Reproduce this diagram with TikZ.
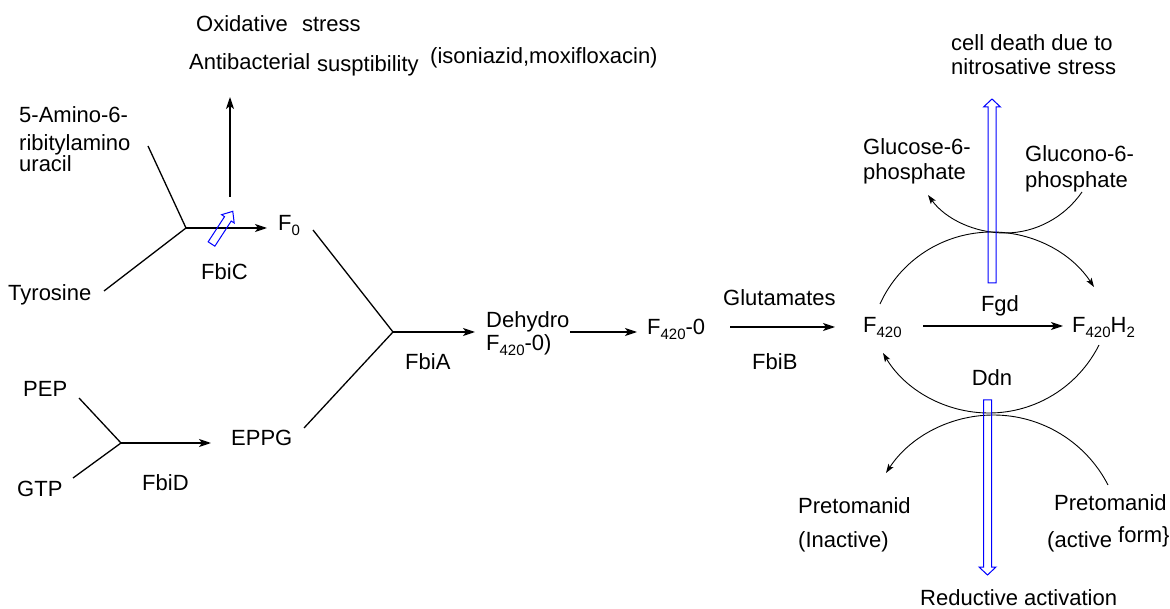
\documentclass[tikz,border=0pt]{standalone}
\usepackage{fontspec}
\setmainfont{Liberation Sans}
\usetikzlibrary{arrows.meta}
\newcommand\sbs[1]{\raisebox{-5pt}{\fontsize{15}{15}\selectfont #1}}
\begin{document}
\begin{tikzpicture}[x=1pt,y=-1pt,font=\fontsize{22}{26}\selectfont,
  lbl/.style={inner sep=0pt,anchor=base west},
  lblc/.style={inner sep=0pt,anchor=base},
  rxn/.style={line width=1.3pt},
  rxa/.style={rxn,-{Stealth[length=12pt,width=8pt,inset=3pt]}},
  arcl/.style={line width=0.9pt},
  arca/.style={arcl,-{Stealth[length=9pt,width=6pt,inset=2pt]}},
  blu/.style={draw=blue,line width=1pt,line join=miter}]
\useasboundingbox (0,0) rectangle (1170,609);

% ---- top-left texts
\node[lbl] (oxs) at (196,32) {Oxidative\hspace{8pt} stress};
\node[lbl] (anti) at (189,70) {Antibacterial};
\node[lbl] (susp) at (317,72) {susptibility};
\node[lbl] (iso) at (430,64) {(isoniazid,moxifloxacin)};

\node[lbl] (am1) at (19,123) {5-Amino-6-};
\node[lbl] (am2) at (19,151) {ribitylamino};
\node[lbl] (am3) at (19,172) {uracil};
\node[lbl] (tyr) at (8,301) {Tyrosine};
\node[lbl] (f0) at (278,231) {F\sbs{0}};
\node[lbl] (fbic) at (201,280) {FbiC};

\node[lbl] (pep) at (23,396) {PEP};
\node[lbl] (gtp) at (17,496) {GTP};
\node[lbl] (fbid) at (142,490) {FbiD};
\node[lbl] (eppg) at (231,446) {EPPG};
\node[lbl] (fbia) at (405,370) {FbiA};
\node[lbl] (dh1) at (486,328) {Dehydro};
\node[lbl] (dh2) at (486,351) {F\sbs{420}-0)};
\node[lbl] (f4200) at (647,335) {F\sbs{420}-0};
\node[lbl] (glut) at (723,306) {Glutamates};
\node[lbl] (fbib) at (752,370) {FbiB};

% ---- right texts
\node[lbl] (f420) at (863,333) {F\sbs{420}};
\node[lbl] (f420h2) at (1072,333) {F\sbs{420}H\sbs{2}};
\node[lblc] (fgd) at (1000,312) {Fgd};
\node[lblc] (ddn) at (992,386) {Ddn};
\node[lbl] (cd1) at (951,51) {cell death due to};
\node[lbl] (cd2) at (951,75) {nitrosative stress};
\node[lbl] (g6a) at (863,155) {Glucose-6-};
\node[lbl] (g6b) at (863,180) {phosphate};
\node[lbl] (gl6a) at (1025,162) {Glucono-6-};
\node[lbl] (gl6b) at (1025,188) {phosphate};
\node[lbl] (pia) at (798,513) {Pretomanid};
\node[lbl] (pib) at (798,547) {(Inactive)};
\node[lbl] (paa) at (1054,510) {Pretomanid};
\node[lbl] (pab) at (1047,547) {(active};
\node[lbl] (pac) at (1118,542) {form\}};
\node[lbl] (red) at (920,605) {Reductive activation};

% ---- connector end points
\coordinate (jC) at (186,228);
\coordinate (amE) at (148,146);
\coordinate (tyE) at (104,291);
\coordinate (f0W) at (267,228);
\coordinate (upS) at (230,197);
\coordinate (upE) at (230,97);
\coordinate (f0E) at (313,230);
\coordinate (jA) at (393,332);
\coordinate (eppgE) at (304,428);
\coordinate (dhW) at (475,332);
\coordinate (jD) at (121,443);
\coordinate (pepE) at (79,398);
\coordinate (gtpE) at (73,478);
\coordinate (eppgW) at (211,443);
\coordinate (dhE) at (570,332);
\coordinate (f4200W) at (637,332);
\coordinate (glS) at (730,327);
\coordinate (glE) at (835,327);
\coordinate (fgS) at (923,326);
\coordinate (fgE) at (1063,326);

% ---- left pathway
\draw[rxn] (amE) -- (jC);
\draw[rxn] (tyE) -- (jC);
\draw[rxa] (jC) -- (f0W);
\draw[rxa] (upS) -- (upE);
\draw[rxn] (f0E) -- (jA);
\draw[rxn] (eppgE) -- (jA);
\draw[rxa] (jA) -- (dhW);
\draw[rxn] (pepE) -- (jD);
\draw[rxn] (gtpE) -- (jD);
\draw[rxa] (jD) -- (eppgW);
\draw[rxa] (dhE) -- (f4200W);
\draw[rxa] (glS) -- (glE);
\draw[rxa] (fgS) -- (fgE);

% ---- coupled arcs
\coordinate (aA1) at (1082,192); \coordinate (aA2) at (1005,233); \coordinate (aA3) at (928,195);
\draw[arca] (aA1) .. controls (1064.6,217.3) and (1035.7,233) .. (aA2)
                  .. controls (975,233) and (945.6,219.3) .. (aA3);
\coordinate (aB1) at (880,304); \coordinate (aB2) at (992,232); \coordinate (aB3) at (1094,287);
\draw[arca] (aB1) .. controls (899.9,260) and (943.7,232) .. (aB2)
                  .. controls (1033.2,232) and (1071.3,252.6) .. (aB3);
\coordinate (aC1) at (1099,345); \coordinate (aC2) at (989,413); \coordinate (aC3) at (883,353);
\draw[arca] (aC1) .. controls (1078.1,386.7) and (1035.6,413) .. (aC2)
                  .. controls (945.5,413) and (905.2,390.1) .. (aC3);
\coordinate (aD1) at (1108,485); \coordinate (aD2) at (993.5,415); \coordinate (aD3) at (886,473);
\draw[arca] (aD1) .. controls (1086,442.1) and (1041.7,415) .. (aD2)
                  .. controls (950.1,415) and (909.8,436.7) .. (aD3);

% ---- blue open arrows
\draw[blu] (988,283) -- (988,107) -- (983.5,107) -- (992,99) -- (1000.5,107) -- (996,107) -- (996,283) -- cycle;
\draw[blu] (983.5,400) -- (983.5,567) -- (979,567) -- (987.5,575) -- (996,567) -- (991.5,567) -- (991.5,400) -- cycle;
\draw[blu] (214.85,246.18) -- (231.23,221.04) -- (234.2,223.0) -- (232.79,211.32) -- (221.6,214.7) -- (224.53,216.68) -- (208.15,241.82) -- cycle;
\end{tikzpicture}
\end{document}
